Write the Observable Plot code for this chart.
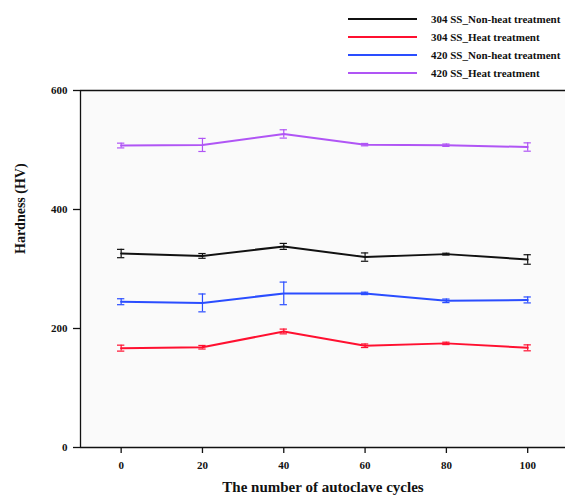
<!DOCTYPE html>
<html>
<head>
<meta charset="utf-8">
<script src="https://cdn.jsdelivr.net/npm/d3@7"></script>
<script src="https://cdn.jsdelivr.net/npm/@observablehq/plot@0.6"></script>
<style>
  body { margin: 0; background: #fff; font-family: "Liberation Serif", "Times New Roman", serif; }
  #legend { position: relative; width: 565px; height: 82px; }
  .lg-line { position: absolute; left: 348px; width: 69px; height: 2px; }
  .lg-text { position: absolute; left: 431px; font-size: 11px; font-weight: bold; line-height: 12px; color: #111; white-space: nowrap; }
</style>
</head>
<body>
<div id="legend"></div>
<div id="chart"></div>
<script>
const cycles = [0, 20, 40, 60, 80, 100];
const seriesNames = ["304 SS_Non-heat treatment", "304 SS_Heat treatment", "420 SS_Non-heat treatment", "420 SS_Heat treatment"];
const seriesColors = ["#111111", "#ff1030", "#2a4dff", "#b055f5"];
const ss304NonHeat = [326, 322, 338, 320, 325, 316];
const ss304NonHeatErr = [7, 4, 5, 7, 1.5, 8];
const ss304Heat = [167, 168.5, 195, 171, 175, 167.5];
const ss304HeatErr = [5, 3, 4, 3, 2, 5];
const ss420NonHeat = [245, 243, 259, 259, 246.5, 248];
const ss420NonHeatErr = [5, 15, 19, 2, 3, 5];
const ss420Heat = [507.5, 508.5, 527, 509, 508, 505];
const ss420HeatErr = [4, 11, 7, 2, 2, 7];
const yTicks = [0, 200, 400, 600];
const xTicks = [0, 20, 40, 60, 80, 100];
const xLabel = "The number of autoclave cycles";
const yLabel = "Hardness (HV)";

const valueSets = [ss304NonHeat, ss304Heat, ss420NonHeat, ss420Heat];
const errSets = [ss304NonHeatErr, ss304HeatErr, ss420NonHeatErr, ss420HeatErr];
const data = [];
seriesNames.forEach((s, i) => {
  cycles.forEach((c, j) => {
    data.push({series: s, cycle: c, value: valueSets[i][j], err: errSets[i][j]});
  });
});

// Legend
const legend = document.getElementById("legend");
seriesNames.forEach((s, i) => {
  const y = 18 + i * 18;
  const line = document.createElement("div");
  line.className = "lg-line";
  line.style.top = y + "px";
  line.style.background = seriesColors[i];
  legend.appendChild(line);
  const t = document.createElement("div");
  t.className = "lg-text";
  t.style.top = (y - 5) + "px";
  t.textContent = s;
  legend.appendChild(t);
});

const capHalf = 0.9;
const font = "'Liberation Serif', 'Times New Roman', serif";

const chart = Plot.plot({
  width: 565,
  height: 420,
  marginLeft: 80,
  marginRight: 0,
  marginTop: 8,
  marginBottom: 55,
  style: {fontFamily: font, fontWeight: "bold", fontSize: "11px", color: "#111", background: "transparent"},
  x: {domain: [-10, 109.3], ticks: xTicks, tickSize: 6, tickPadding: 8, label: null, tickFormat: d => String(d)},
  y: {domain: [0, 600], ticks: yTicks, tickSize: 7, tickPadding: 6, label: null},
  color: {domain: seriesNames, range: seriesColors},
  marks: [
    Plot.frame({fill: "#fafafa", stroke: null}),
    Plot.ruleX(data, {x: "cycle", y1: d => d.value - d.err, y2: d => d.value + d.err, stroke: "series", strokeWidth: 1.2}),
    Plot.ruleY(data, {y: d => d.value - d.err, x1: d => d.cycle - capHalf, x2: d => d.cycle + capHalf, stroke: "series", strokeWidth: 1.2}),
    Plot.ruleY(data, {y: d => d.value + d.err, x1: d => d.cycle - capHalf, x2: d => d.cycle + capHalf, stroke: "series", strokeWidth: 1.2}),
    Plot.line(data, {x: "cycle", y: "value", z: "series", stroke: "series", strokeWidth: 2}),
    Plot.ruleY([0, 600], {stroke: "#111", strokeWidth: 1.3}),
    Plot.ruleX([-10], {stroke: "#111", strokeWidth: 1.3}),
    Plot.axisX({ticks: xTicks, tickSize: 6, tickPadding: 8, label: null, fontSize: 11, fontWeight: "bold", stroke: "#111", strokeWidth: 1.3}),
    Plot.axisY({ticks: yTicks, tickSize: 7, tickPadding: 6, label: null, fontSize: 11, fontWeight: "bold", stroke: "#111", strokeWidth: 1.3}),
    Plot.text([yLabel], {frameAnchor: "left", rotate: -90, dx: -60, dy: -15, fontSize: 14, fontWeight: "bold", fill: "#111"}),
    Plot.text([xLabel], {frameAnchor: "bottom", dy: 44, fontSize: 15, fontWeight: "bold", fill: "#111"})
  ]
});
document.getElementById("chart").appendChild(chart);
</script>
</body>
</html>
